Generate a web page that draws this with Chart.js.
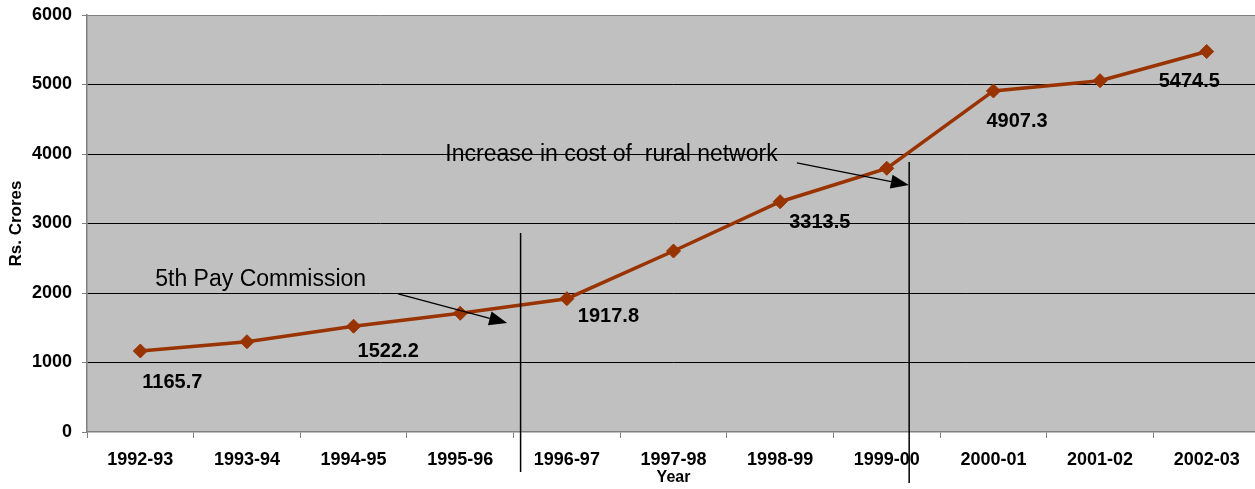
<!DOCTYPE html>
<html>
<head>
<meta charset="utf-8">
<script src="https://cdn.jsdelivr.net/npm/chart.js@4.4.1/dist/chart.umd.min.js"></script>
<style>
  html, body { margin: 0; padding: 0; background: #fff; overflow: hidden; }
  #wrap { position: absolute; left: 0; top: 0; width: 1268px; height: 489px; }
</style>
</head>
<body>
<div id="wrap"><canvas id="cost" width="1268" height="489"></canvas></div>
<script>
const years = ['1992-93', '1993-94', '1994-95', '1995-96', '1996-97', '1997-98', '1998-99', '1999-00', '2000-01', '2001-02', '2002-03'];
const costs = [1165.7, 1299, 1522.2, 1708, 1917.8, 2604, 3313.5, 3794, 4907.3, 5055, 5474.5];
// only every other point carries its value in the original
const shownValues = [0, 2, 4, 6, 8, 10];
const yMax = 6000;
const yStep = 1000;

// notes and markers, placed in data units (category index, Rs. Crores)
const notes = [
  { text: '5th Pay Commission', x: 0.14, y: 2187 },
  { text: 'Increase in cost of  rural network', x: 2.86, y: 3986 }
];
const markers = [
  { x: 3.566, from: 2863, to: -576 },
  { x: 7.21, from: 3885, to: -734 }
];
const arrows = [
  { x1: 2.418, y1: 1986, x2: 3.44, y2: 1568 },
  { x1: 6.157, y1: 3871, x2: 7.207, y2: 3554 }
];

// pixel nudges for the value labels (style only)
const labelNudge = { 0: [2, 32], 2: [4, 25], 4: [11, 18], 6: [9, 21], 8: [-7, 31], 10: [-48, 30] };

const FONT = '"Liberation Sans", Arial, sans-serif';
const BROWN = '#993300';

const plotBg = {
  id: 'plotBg',
  beforeDraw(chart) {
    const { ctx, chartArea: a } = chart;
    ctx.save();
    ctx.fillStyle = '#c0c0c0';
    ctx.fillRect(a.left, a.top, a.right - a.left, a.bottom - a.top);
    ctx.restore();
  }
};

const extras = {
  id: 'extras',
  afterDraw(chart) {
    const ctx = chart.ctx;
    const xs = chart.scales.x, ys = chart.scales.y;
    const px = v => xs.left + (v + 0.5) * (xs.right - xs.left) / years.length;
    const py = v => ys.getPixelForValue(v);
    const meta = chart.getDatasetMeta(0);
    ctx.save();

    // value labels
    ctx.fillStyle = '#000';
    ctx.font = 'bold 20px ' + FONT;
    ctx.textBaseline = 'middle';
    ctx.textAlign = 'left';
    shownValues.forEach(i => {
      const pt = meta.data[i];
      const n = labelNudge[i] || [0, 25];
      ctx.fillText(String(costs[i]), pt.x + n[0], pt.y + n[1]);
    });

    // note texts
    ctx.font = '23px ' + FONT;
    notes.forEach(t => ctx.fillText(t.text, px(t.x), py(t.y)));

    // vertical markers
    ctx.strokeStyle = '#000';
    ctx.lineWidth = 1.5;
    markers.forEach(m => {
      ctx.beginPath();
      ctx.moveTo(px(m.x), py(m.from));
      ctx.lineTo(px(m.x), py(m.to));
      ctx.stroke();
    });

    // arrows
    ctx.lineWidth = 1.3;
    ctx.fillStyle = '#000';
    arrows.forEach(a => {
      const x1 = px(a.x1), y1 = py(a.y1), x2 = px(a.x2), y2 = py(a.y2);
      const ang = Math.atan2(y2 - y1, x2 - x1);
      const len = 18, half = 7;
      const bx = x2 - len * Math.cos(ang), by = y2 - len * Math.sin(ang);
      ctx.beginPath();
      ctx.moveTo(x1, y1);
      ctx.lineTo(bx, by);
      ctx.stroke();
      ctx.beginPath();
      ctx.moveTo(x2, y2);
      ctx.lineTo(bx + half * Math.sin(ang), by - half * Math.cos(ang));
      ctx.lineTo(bx - half * Math.sin(ang), by + half * Math.cos(ang));
      ctx.closePath();
      ctx.fill();
    });
    ctx.restore();
  }
};

const costChart = new Chart(document.getElementById('cost').getContext('2d'), {
  type: 'line',
  data: {
    labels: years,
    datasets: [{
      data: costs,
      borderColor: BROWN,
      backgroundColor: BROWN,
      borderWidth: 3.5,
      pointStyle: 'rectRot',
      pointRadius: 7,
      pointBorderWidth: 1,
      pointBackgroundColor: BROWN,
      pointBorderColor: BROWN,
      tension: 0
    }]
  },
  options: {
    responsive: false,
    animation: false,
    layout: { padding: { top: 15, left: 0, right: 0, bottom: 0 } },
    plugins: {
      legend: { display: false },
      tooltip: { enabled: false }
    },
    scales: {
      x: {
        offset: true,
        afterFit: s => { s.height = 57; s.paddingLeft = 0; s.paddingRight = 0; },
        grid: {
          display: true,
          offset: true,
          drawOnChartArea: false,
          drawTicks: true,
          tickLength: 6,
          tickColor: '#808080'
        },
        border: { color: '#808080', width: 1.5 },
        ticks: {
          color: '#000',
          padding: 11,
          maxRotation: 0,
          autoSkip: false,
          font: { family: FONT, size: 18, weight: 'bold' }
        },
        title: {
          display: true,
          text: 'Year',
          color: '#000',
          padding: { top: 0, bottom: 2 },
          font: { family: FONT, size: 16, weight: 'bold' }
        }
      },
      y: {
        min: 0,
        max: yMax,
        afterFit: s => { s.width = 87; s.paddingTop = 0; s.paddingBottom = 0; },
        grid: {
          color: c => (c.tick && c.tick.value === 0) ? 'rgba(0,0,0,0)' : (c.tick && c.tick.value === yMax ? '#808080' : '#000'),
          lineWidth: 1,
          tickLength: 5,
          tickColor: '#808080'
        },
        border: { color: '#808080', width: 1.5 },
        ticks: {
          stepSize: yStep,
          color: '#000',
          padding: 10,
          callback: v => String(v),
          font: { family: FONT, size: 18, weight: 'bold' }
        },
        title: {
          display: true,
          text: 'Rs. Crores',
          color: '#000',
          padding: { top: 6, bottom: 0 },
          font: { family: FONT, size: 17, weight: 'bold' }
        }
      }
    }
  },
  plugins: [plotBg, extras]
});
</script>
</body>
</html>
